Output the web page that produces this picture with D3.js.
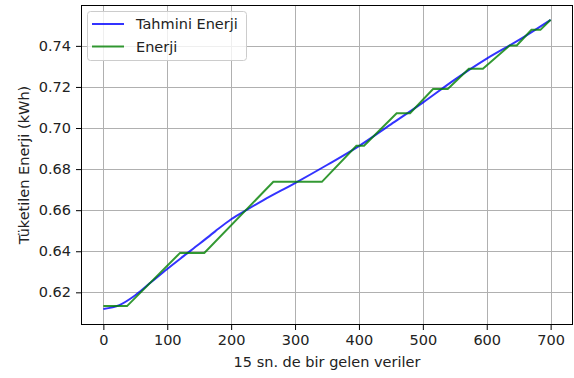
<!DOCTYPE html>
<html><head><meta charset="utf-8">
<script src="https://cdn.jsdelivr.net/npm/d3@7"></script>
<style>body{margin:0;background:#fff}svg{display:block}text{font-family:"DejaVu Sans",sans-serif;fill:#222}</style>
</head><body><svg id="c" width="574" height="378"></svg>
<script>
// Data
const estX = [0,25,50,75,100,125,150,175,200,225,250,300,350,400,450,500,550,600,650,700];
const estY = [0.6119,0.6138,0.6186,0.6250,0.6314,0.6375,0.6435,0.6497,0.6556,0.6603,0.6648,0.6732,0.6820,0.6912,0.7018,0.7124,0.7236,0.7338,0.7428,0.7527];
const enX = [0,37,120,158,266,342,396,408,459,480,516,539,572,594,636,647,670,684,700];
const enY = [0.6133,0.6133,0.6392,0.6392,0.6738,0.6738,0.6914,0.6914,0.7072,0.7072,0.7190,0.7190,0.7289,0.7289,0.7402,0.7402,0.7478,0.7478,0.7527];
const xTicks = [0,100,200,300,400,500,600,700];
const yTicks = [0.62,0.64,0.66,0.68,0.70,0.72,0.74];
const seriesNames = ["Tahmini Enerji","Enerji"];
const colors = ["#0000ff","#008000"];

const L=81,R=573,T=5,B=325,FS=14.5;
const svg=d3.select("#c");
const x=d3.scaleLinear().domain([-35,735]).range([L,R]);
const y=d3.scaleLinear().domain([0.6041,0.7599]).range([B,T]);

// grid
const g=svg.append("g");
g.selectAll(".gx").data(xTicks).enter().append("line")
 .attr("x1",d=>Math.round(x(d))+0.5).attr("x2",d=>Math.round(x(d))+0.5).attr("y1",T).attr("y2",B)
 .attr("stroke","#b0b0b0").attr("stroke-width",1);
g.selectAll(".gy").data(yTicks).enter().append("line")
 .attr("y1",d=>Math.round(y(d))+0.5).attr("y2",d=>Math.round(y(d))+0.5).attr("x1",L).attr("x2",R)
 .attr("stroke","#b0b0b0").attr("stroke-width",1);

// lines
svg.append("path").datum(estX.map((v,i)=>[v,estY[i]]))
 .attr("d",d3.line().x(d=>x(d[0])).y(d=>y(d[1])).curve(d3.curveMonotoneX)).attr("fill","none").attr("stroke",colors[0]).attr("stroke-opacity",0.8).attr("stroke-width",2);
svg.append("path").datum(enX.map((v,i)=>[v,enY[i]]))
 .attr("d",d3.line().x(d=>x(d[0])).y(d=>y(d[1]))).attr("fill","none").attr("stroke",colors[1]).attr("stroke-opacity",0.8).attr("stroke-width",2);

// axes
const xa=svg.append("g").attr("transform",`translate(0,${B})`)
 .call(d3.axisBottom(x).tickValues(xTicks).tickFormat(d3.format("d")).tickSizeOuter(0).tickSize(5).tickPadding(5));
const ya=svg.append("g").attr("transform",`translate(${L},0)`)
 .call(d3.axisLeft(y).tickValues(yTicks).tickFormat(d3.format(".2f")).tickSizeOuter(0).tickSize(5).tickPadding(5));
[xa,ya].forEach(a=>{a.select(".domain").remove();a.selectAll("text").attr("font-size",FS).attr("font-family","DejaVu Sans").attr("fill","#222");a.selectAll("line").attr("stroke","#000");});
// spines
svg.append("rect").attr("x",L+0.5).attr("y",T+0.5).attr("width",R-L-1).attr("height",B-T-1).attr("fill","none").attr("stroke","#000").attr("stroke-width",1);

// labels
svg.append("text").attr("x",(L+R)/2).attr("y",367).attr("text-anchor","middle").attr("font-size",FS).text("15 sn. de bir gelen veriler");
svg.append("text").attr("transform",`translate(29,${(T+B)/2}) rotate(-90)`).attr("text-anchor","middle").attr("font-size",FS).text("Tüketilen Enerji (kWh)");

// legend
const lg=svg.append("g");
lg.append("rect").attr("x",87.5).attr("y",11.5).attr("width",159).attr("height",49).attr("rx",3)
 .attr("fill","#fff").attr("fill-opacity",0.8).attr("stroke","#cccccc");
seriesNames.forEach((n,i)=>{
 const yy=24+i*22.5;
 lg.append("line").attr("x1",92).attr("x2",124).attr("y1",yy).attr("y2",yy).attr("stroke",colors[i]).attr("stroke-opacity",0.8).attr("stroke-width",2);
 lg.append("text").attr("x",136).attr("y",yy+5).attr("font-size",FS).text(n);
});
</script></body></html>
